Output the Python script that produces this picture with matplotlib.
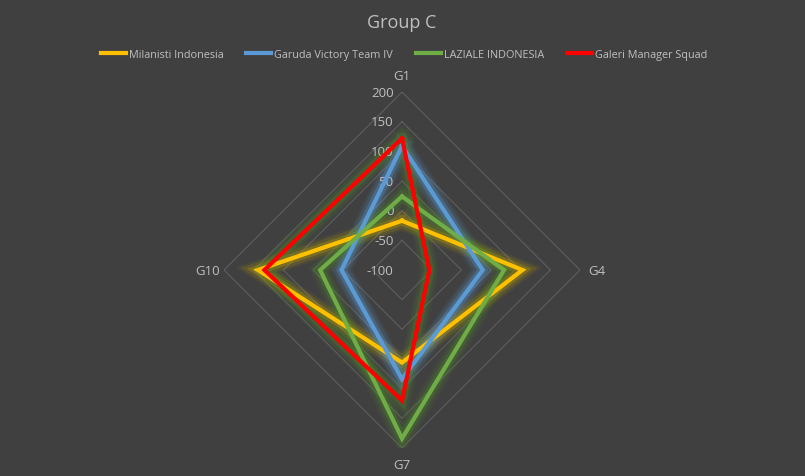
import numpy as np
import matplotlib
matplotlib.use("Agg")
import matplotlib.pyplot as plt
import matplotlib.transforms as mtransforms

# data
axes_labels = ["G1", "G4", "G7", "G10"]
milanisti = [-17, 103, 56, 143]
garuda = [109, 36, 84, 2]
laziale = [24, 72, 184, 38]
galeri = [122, -54, 120, 132]
series_names = ["Milanisti Indonesia", "Garuda Victory Team IV", "LAZIALE INDONESIA", "Galeri Manager Squad"]
series_vals = [milanisti, garuda, laziale, galeri]
colors = ["#FFC000", "#5B9BD5", "#70AD47", "#FF0000"]
glow_colors = ["#C9A800", "#5B9BD5", "#4E8A2A", "#4E8A2A"]
r_ticks = [-100, -50, 0, 50, 100, 150, 200]

bg = "#404040"
txt = "#BFBFBF"
plt.rcParams['font.family'] = ['Open Sans', 'DejaVu Sans']

fig = plt.figure(figsize=(8.05, 4.77), dpi=100, facecolor=bg)
ax = fig.add_axes([0.2783, 0.0587, 0.4422, 0.7463], projection='polar', facecolor=bg)
ax.set_theta_zero_location('N')
ax.set_theta_direction(-1)
ax.set_ylim(-100, 200)
ax.grid(False)
ax.spines['polar'].set_visible(False)
ax.set_xticks([])
ax.set_yticks([])

theta = np.linspace(0, 2 * np.pi, len(axes_labels), endpoint=False)
theta_c = np.append(theta, theta[0])

# diamond grid
for r in r_ticks[1:]:
    ax.plot(theta_c, [r] * len(theta_c), color="#5E5E5E", lw=0.8, zorder=1)

# radial labels left of the vertical axis
off = mtransforms.offset_copy(ax.transData, fig=fig, x=-6, y=0, units='points')
for r in r_ticks:
    ax.text(0, r, str(r), transform=off, ha='right', va='center', color=txt, fontsize=9.5)

# category labels
for t, lab in zip(theta, axes_labels):
    ax.text(t, 228, lab, ha='center', va='center', color=txt, fontsize=9.5)

# glow + main line for each team
handles = []
for name, vals, c, gc in zip(series_names, series_vals, colors, glow_colors):
    v = np.append(vals, vals[0])
    for lw, a in [(14, 0.08), (11, 0.14), (7, 0.28)]:
        ax.plot(theta_c, v, color=gc, lw=lw, alpha=a, solid_joinstyle='miter', zorder=2)
    h, = ax.plot(theta_c, v, color=c, lw=3, solid_joinstyle='miter', zorder=3, label=name)
    handles.append(h)

fig.text(0.4994, 0.952, "Group C", ha='center', va='center', color=txt, fontsize=13)
fig.legend(handles=handles, loc='center', bbox_to_anchor=(0.502, 0.884), ncol=4, frameon=False,
           fontsize=7.8, labelcolor=txt, handlelength=2.3, handletextpad=0.3, columnspacing=2.1)

fig.savefig("out.png", dpi=100, facecolor=bg)
